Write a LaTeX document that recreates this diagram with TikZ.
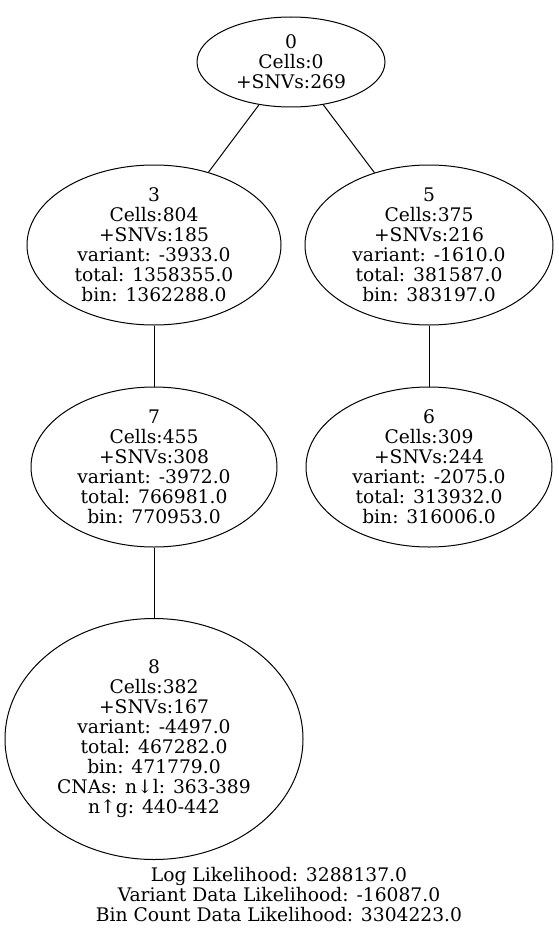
\documentclass[tikz,border=0pt]{standalone}
\usepackage{fontspec}
\setmainfont{DejaVu Serif}
\usetikzlibrary{shapes.geometric}

\begin{document}
\begin{tikzpicture}[
  x=1pt, y=-1pt,
  font=\fontsize{18.7}{20}\selectfont,
  clone/.style={draw=black, line width=1pt, ellipse, align=center,
              inner xsep=0pt, inner ysep=-6pt},
  small/.style={clone, minimum width=188pt, minimum height=90pt},
  mid/.style={clone, minimum width=248pt, minimum height=160pt},
  big/.style={clone, minimum width=298pt, minimum height=241pt},
  edge/.style={line width=1pt, draw=black}
]
\useasboundingbox (0,0) rectangle (558,931);

\node[small] (n0) at (291,62) {0\\Cells:0\\+SNVs:269};

\node[mid, minimum width=254pt] (n3) at (154,245) {3\\Cells:804\\+SNVs:185\\variant: -3933.0\\total: 1358355.0\\bin: 1362288.0};
\node[mid] (n5) at (429,245) {5\\Cells:375\\+SNVs:216\\variant: -1610.0\\total: 381587.0\\bin: 383197.0};

\node[mid, minimum width=246pt] (n7) at (154,467) {7\\Cells:455\\+SNVs:308\\variant: -3972.0\\total: 766981.0\\bin: 770953.0};
\node[mid, minimum width=246pt] (n6) at (429,467) {6\\Cells:309\\+SNVs:244\\variant: -2075.0\\total: 313932.0\\bin: 316006.0};

\node[big] (n8) at (154,739) {8\\Cells:382\\+SNVs:167\\variant: -4497.0\\total: 467282.0\\bin: 471779.0\\CNAs: n↓l: 363-389\\n↑g: 440-442};

\node[align=center] (lik) at (279,895) {Log Likelihood: 3288137.0\\Variant Data Likelihood: -16087.0\\Bin Count Data Likelihood: 3304223.0};

\draw[edge] (n0) -- (n3);
\draw[edge] (n0) -- (n5);
\draw[edge] (n3) -- (n7);
\draw[edge] (n5) -- (n6);
\draw[edge] (n7) -- (n8);
\end{tikzpicture}
\end{document}
